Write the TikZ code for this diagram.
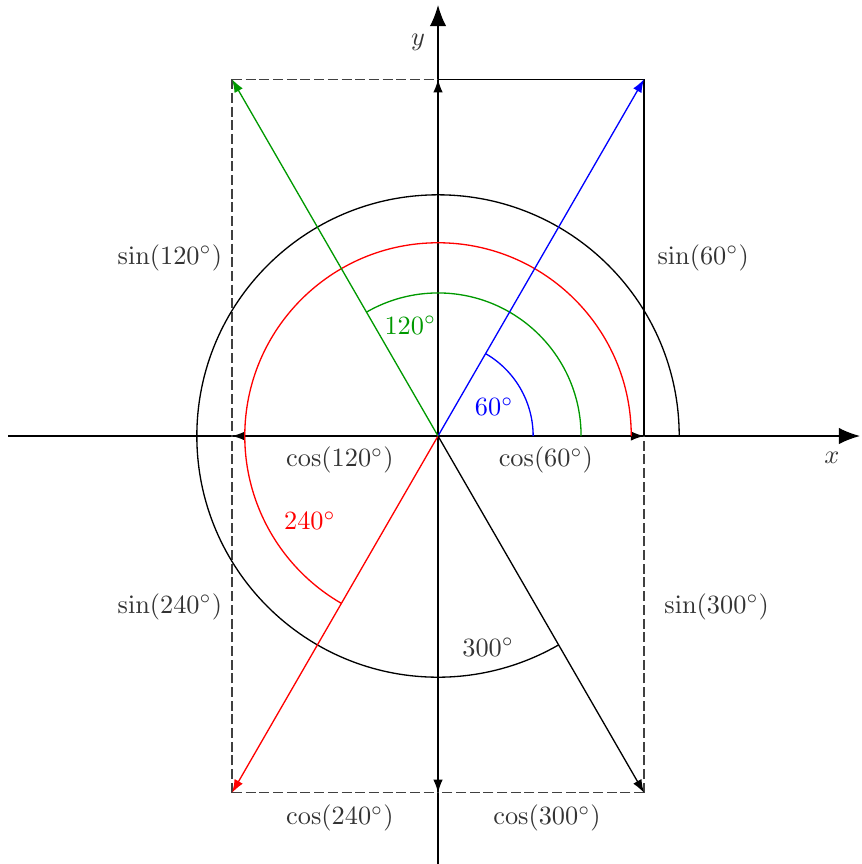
\documentclass[tikz,border=0pt]{standalone}
\usepackage{amssymb}
\usepackage{tikz}
\usetikzlibrary{arrows.meta}

\begin{document}
\begin{tikzpicture}[x=1cm,y=1cm,line width=0.5pt,
		vec/.style={-{Latex[length=5pt,width=3.6pt]}},
		axis/.style={-{Latex[length=8pt,width=6.2pt]}},
		proj/.style={dash pattern=on 3.8pt off 1.4pt,black!75},
		lbl/.style={text=black!80}]
			\useasboundingbox (-5.848,-5.714) rectangle (5.648,5.821);
			% points
			\coordinate (O) at (0,0);
			\coordinate (xl) at (-5.74,0);
			\coordinate (xr) at (5.634,0);
			\coordinate (yb) at (0,-5.714);
			\coordinate (yt) at (0,5.754);
			\coordinate (A) at (60:5.5);
			\coordinate (B) at (120:5.5);
			\coordinate (C) at (240:5.5);
			\coordinate (D) at (300:5.5);
			\coordinate (Ax) at (A |- O);
			\coordinate (Ay) at (A -| O);
			\coordinate (Bx) at (B |- O);
			\coordinate (By) at (B -| O);
			\coordinate (Cx) at (C |- O);
			\coordinate (Cy) at (C -| O);
			\coordinate (Dx) at (D |- O);
			\coordinate (Dy) at (D -| O);
			% axes
			\draw[axis](xl) -- (xr);
			\draw[axis](yb) -- (yt);
			\node[lbl] (xlab) at (5.26,-0.294) {$x$};
			\node[lbl] (ylab) at (-0.267,5.26) {$y$};
			% projections
			\draw(A) -- (Ay);
			\draw(A) -- (Ax);
			\draw[proj](B) -- (By);
			\draw[proj](B) -- (Bx);
			\draw[proj](C) -- (Cy);
			\draw[proj](C) -- (Cx);
			\draw[proj](D) -- (Dy);
			\draw[proj](D) -- (Dx);
			\draw[vec](O) -- (Ax);
			\draw[vec](O) -- (Bx);
			\draw[vec](O) -- (Ay);
			\draw[vec](O) -- (Cy);
			% angles
			\draw[blue](1.27,0) arc(0:60:1.27);
			\draw[green!60!black](1.91,0) arc(0:120:1.91);
			\draw[red](2.58,0) arc(0:240:2.58);
			\draw(3.22,0) arc(0:300:3.22);
			% vectors
			\draw[vec,blue](O) -- (A);
			\draw[vec,green!60!black](O) -- (B);
			\draw[vec,red](O) -- (C);
			\draw[vec](O) -- (D);
			% labels
			\node[blue] (a60) at (0.75,0.39) {$60^\circ$};
			\node[green!60!black] (a120) at (-0.37,1.48) {$120^\circ$};
			\node[red] (a240) at (-1.71,-1.13) {$240^\circ$};
			\node[lbl] (a300) at (0.67,-2.82) {$300^\circ$};
			\node[lbl] (s60) at (3.54,2.38) {$\sin(60^\circ)$};
			\node[lbl] (s120) at (-3.58,2.38) {$\sin(120^\circ)$};
			\node[lbl] (s240) at (-3.58,-2.28) {$\sin(240^\circ)$};
			\node[lbl] (s300) at (3.72,-2.28) {$\sin(300^\circ)$};
			\node[lbl] (c60) at (1.44,-0.32) {$\cos(60^\circ)$};
			\node[lbl] (c120) at (-1.31,-0.32) {$\cos(120^\circ)$};
			\node[lbl] (c240) at (-1.31,-5.10) {$\cos(240^\circ)$};
			\node[lbl] (c300) at (1.455,-5.10) {$\cos(300^\circ)$};
		\end{tikzpicture}
\end{document}
